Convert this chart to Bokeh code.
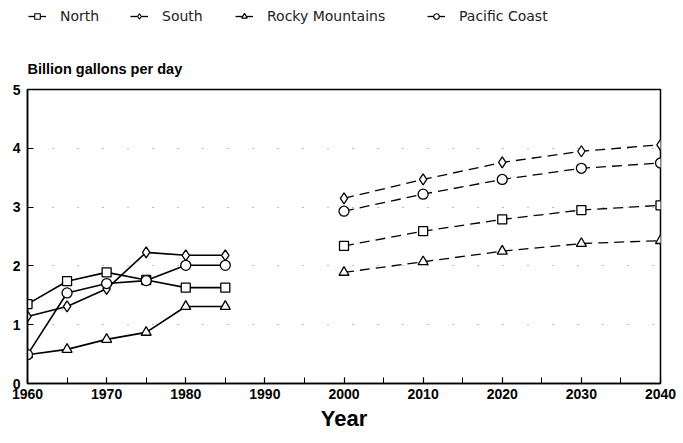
from bokeh.plotting import figure
from bokeh.layouts import column
from bokeh.models import (Legend, LegendItem, SingleIntervalTicker, FixedTicker,
                          Range1d, Label)
from bokeh.embed import file_html
from bokeh.resources import INLINE

# ---- data ----
hist_years = [1960, 1965, 1970, 1975, 1980, 1985]
proj_years = [2000, 2010, 2020, 2030, 2040]

north_hist = [1.35, 1.74, 1.89, 1.76, 1.63, 1.63]
south_hist = [1.14, 1.31, 1.61, 2.23, 2.18, 2.18]
rocky_hist = [0.49, 0.58, 0.75, 0.87, 1.31, 1.31]
pacific_hist = [0.49, 1.54, 1.70, 1.75, 2.01, 2.01]

north_proj = [2.34, 2.59, 2.79, 2.95, 3.03]
south_proj = [3.15, 3.47, 3.76, 3.95, 4.06]
rocky_proj = [1.89, 2.07, 2.25, 2.38, 2.43]
pacific_proj = [2.93, 3.22, 3.47, 3.66, 3.75]

series_names = ["North", "South", "Rocky Mountains", "Pacific Coast"]
y_ticks = [0, 1, 2, 3, 4, 5]
y_label = "Billion gallons per day"
x_label = "Year"

markers = ["square", "diamond", "triangle", "circle"]
sizes = [9, 11, 10, 10]
hist = [north_hist, south_hist, rocky_hist, pacific_hist]
proj = [north_proj, south_proj, rocky_proj, pacific_proj]

FIG_W = 683
FRAME_W = 633

# ---- header figure (legend + y-axis title); its frame aligns with the chart frame ----
TOP_H = 80
top = figure(width=FIG_W, height=TOP_H, output_backend="svg", toolbar_location=None,
             x_range=Range1d(0, FRAME_W), y_range=Range1d(0, TOP_H),
             x_axis_location=None, y_axis_location=None,
             min_border=0, min_border_left=27, min_border_right=23,
             min_border_top=0, min_border_bottom=0)
top.grid.visible = False
top.outline_line_color = None
top.background_fill_color = "white"
top.border_fill_color = "white"

legend_x = [1, 103, 208, 400]
for i in range(4):
    # off-screen sample marks that only provide the legend swatches
    lr = top.line(x=[-50, -40], y=[-50, -50], line_color="black", line_width=1.3)
    sr = top.scatter(x=[-45], y=[-50], marker=markers[i], size=7,
                     fill_color="white", line_color="black", line_width=1.1)
    lg = Legend(items=[LegendItem(label=series_names[i], renderers=[lr, sr])],
                location=(legend_x[i], 56), orientation="horizontal",
                border_line_color=None, background_fill_alpha=0,
                padding=0, margin=0, glyph_width=18, glyph_height=14,
                label_height=14, label_standoff=14,
                label_text_font="DejaVu Sans", label_text_font_size="14px",
                label_text_color="#222222")
    top.add_layout(lg, "center")

top.add_layout(Label(x=0, y=4, text=y_label, text_font="Liberation Sans",
                     text_font_style="bold", text_font_size="14.5px",
                     text_color="black"))

# ---- main chart ----
p = figure(width=FIG_W, height=355, output_backend="svg",
           toolbar_location=None,
           x_range=Range1d(1960, 2040), y_range=Range1d(0, 5),
           min_border_left=27, min_border_right=23,
           min_border_top=9, min_border_bottom=52)

p.outline_line_color = "black"
p.outline_line_width = 1.5
p.background_fill_color = "white"
p.border_fill_color = "white"

p.xaxis.ticker = SingleIntervalTicker(interval=10, num_minor_ticks=2)
p.yaxis.ticker = FixedTicker(ticks=y_ticks)
for ax in (p.xaxis[0], p.yaxis[0]):
    ax.axis_line_color = "black"
    ax.axis_line_width = 1.5
    ax.major_tick_line_color = "black"
    ax.major_tick_line_width = 1.2
    ax.major_tick_in = 6
    ax.major_tick_out = 0
    ax.major_label_text_font = "Liberation Sans"
    ax.major_label_text_font_style = "bold"
    ax.major_label_text_font_size = "14px"
    ax.major_label_text_color = "black"
p.xaxis.minor_tick_in = 6
p.xaxis.minor_tick_out = 0
p.xaxis.minor_tick_line_color = "black"
p.xaxis.minor_tick_line_width = 1.0
p.yaxis.minor_tick_line_color = None
p.xaxis.major_label_standoff = 5
p.yaxis.major_label_standoff = 7
p.xaxis.axis_label = x_label
p.xaxis.axis_label_text_font = "Liberation Sans"
p.xaxis.axis_label_text_font_style = "bold"
p.xaxis.axis_label_text_font_size = "22px"
p.xaxis.axis_label_text_color = "black"
p.xaxis.axis_label_standoff = 4

p.xgrid.grid_line_color = None
p.ygrid.ticker = FixedTicker(ticks=[1, 2, 3, 4])
p.ygrid.grid_line_color = "#444444"
p.ygrid.grid_line_dash = "1 24"
p.ygrid.grid_line_alpha = 0.7
p.ygrid.grid_line_width = 1

for i in range(4):
    p.line(hist_years, hist[i], line_color="black", line_width=1.6)
    p.line(proj_years, proj[i], line_color="black", line_width=1.3, line_dash="10 6")
    p.scatter(hist_years, hist[i], marker=markers[i], size=sizes[i],
              fill_color="white", line_color="black", line_width=1.3)
    p.scatter(proj_years, proj[i], marker=markers[i], size=sizes[i],
              fill_color="white", line_color="black", line_width=1.3)

layout = column(top, p, spacing=0)
open("out.html", "w").write(file_html(layout, INLINE))
